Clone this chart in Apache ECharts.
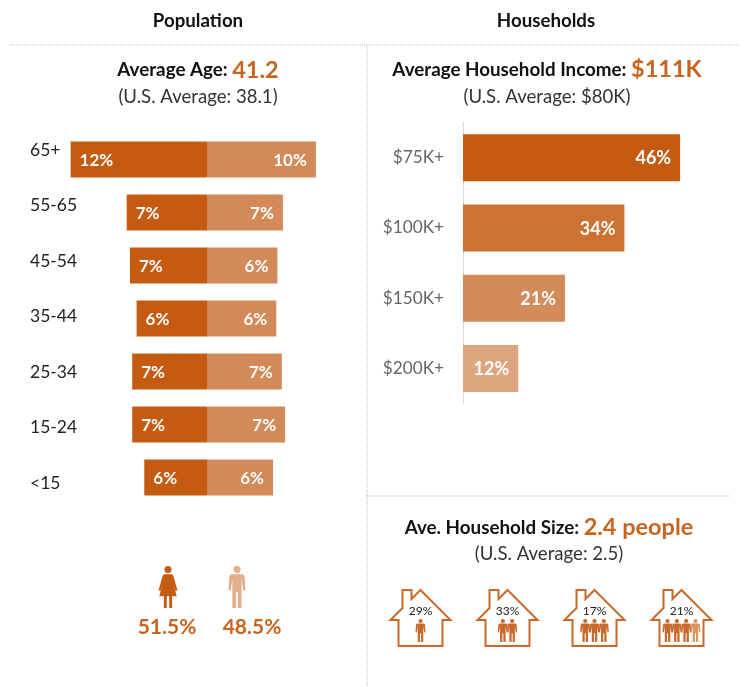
<!DOCTYPE html>
<html>
<head>
<meta charset="utf-8">
<title>Population and Households</title>
<style>
html, body { margin: 0; padding: 0; background: #fff; }
#chart { width: 749px; height: 687px; }
</style>
<script src="https://cdn.jsdelivr.net/npm/echarts@6/dist/echarts.min.js"></script>
</head>
<body>
<div id="chart"></div>
<script>
const ageGroups = ['65+', '55-65', '45-54', '35-44', '25-34', '15-24', '<15'];
const femaleShare = [12.4, 7.3, 7.0, 6.4, 6.8, 6.8, 5.7];
const maleShare = [9.9, 6.9, 6.4, 6.3, 6.8, 7.1, 6.0];

const incomeLevels = ['$75K+', '$100K+', '$150K+', '$200K+'];
const incomeShare = [46, 34.2, 21.6, 11.7];
const incomeLabels = ['46%', '34%', '21%', '12%'];
const incomeColors = ['#C55A11', '#CC7233', '#D48B5A', '#DDA67F'];

const householdShare = [29, 33, 17, 21];
const householdPeople = [1, 2, 3, 4];

const genderNames = ['Female', 'Male'];
const genderShare = [51.5, 48.5];

const DARK = '#C55A11';
const LIGHT = '#D48A58';
const ORANGE = '#C8641F';
const FONT = 'Lato';

const HOUSE = 'M0 -28L30 2H22V28H-22V2H-30L-18 -10V-28H-9V-19Z';
const MALE = 'M20 .5a8.5 8.5 0 1 1 0 17a8.5 8.5 0 1 1 0-17zM8 20H32Q37 20 38 25L40 58L35 59L31 32V100H22V62H18V100H9V32L5 59L0 58L2 25Q3 20 8 20z';
const FEMALE = 'M23 .5a8.5 8.5 0 1 1 0 17a8.5 8.5 0 1 1 0-17zM14 20H32Q35 20 36 24L46 58L41 60L34 36L44 72H33V100H26V72H20V100H13V72H2L12 36L5 60L0 58L10 24Q11 20 14 20z';

function heading(text, x, y, rich) {
    return {
        type: 'text', silent: true,
        style: {
            text: text, x: x, y: y, rich: rich,
            align: 'center', textAlign: 'center',
            verticalAlign: 'middle', textVerticalAlign: 'middle',
            fontFamily: FONT
        }
    };
}

function rule(x1, y1, x2, y2) {
    return {
        type: 'line', silent: true,
        shape: { x1: x1, y1: y1, x2: x2, y2: y2 },
        style: { stroke: '#B8B8B8', lineWidth: 1, lineDash: [1, 1] }
    };
}

const titleRich = {
    t: { fontFamily: FONT, fontSize: 18.7, fontWeight: 'bold', fill: '#111' },
    a: { fontFamily: FONT, fontSize: 18.8, fontWeight: 'bold', fill: '#111' },
    b: { fontFamily: FONT, fontSize: 23.5, fontWeight: 'bold', fill: ORANGE },
    s: { fontFamily: FONT, fontSize: 18.6, fill: '#333' }
};

function renderHouse(params, api) {
    const i = api.value(0);
    const c = api.coord([i, 0.5]);
    const n = api.value(2);
    const children = [{
        type: 'path',
        shape: { pathData: HOUSE, x: c[0] - 30, y: c[1] - 28, width: 60, height: 56, layout: 'cover' },
        style: { fill: 'none', stroke: '#C8682A', lineWidth: 2 }
    }, {
        type: 'text',
        style: {
            text: api.value(1) + '%', x: c[0], y: c[1] - 7,
            align: 'center', verticalAlign: 'middle', textAlign: 'center', textVerticalAlign: 'middle',
            fontFamily: FONT, fontSize: 12, fill: '#222'
        }
    }];
    for (let k = 0; k < n; k++) {
        const px = c[0] + (k - (n - 1) / 2) * 9.3;
        children.push({
            type: 'path',
            shape: { pathData: MALE, x: px - 5, y: c[1] + 1, width: 10, height: 23, layout: 'cover' },
            style: { fill: k === 3 ? '#D9975F' : '#C8682A' }
        });
    }
    return { type: 'group', children: children };
}

function renderGender(params, api) {
    const i = api.value(0);
    const c = api.coord([i, 0.5]);
    const w = i === 0 ? 19 : 17;
    return {
        type: 'group',
        children: [{
            type: 'path',
            shape: { pathData: i === 0 ? FEMALE : MALE, x: c[0] - w / 2, y: c[1] - 21, width: w, height: 42, layout: 'cover' },
            style: { fill: i === 0 ? DARK : '#E3B08F' }
        }, {
            type: 'text',
            style: {
                text: api.value(1) + '%', x: c[0] + (i === 0 ? -1 : 15), y: c[1] + 40,
                align: 'center', verticalAlign: 'middle', textAlign: 'center', textVerticalAlign: 'middle',
                fontFamily: FONT, fontSize: 21, fontWeight: 'bold', fill: ORANGE
            }
        }]
    };
}

const barLabel = {
    show: true, color: '#fff', fontFamily: FONT, fontSize: 17, fontWeight: 'bold', distance: 9, offset: [0, 1]
};

const chart = echarts.init(document.getElementById('chart'), null, { renderer: 'canvas' });
chart.setOption({
    animation: false,
    textStyle: { fontFamily: FONT },
    grid: [
        { left: 42, width: 330, top: 133, height: 371 },
        { left: 38, width: 20, top: 122.5, height: 388.5 },
        { left: 463, width: 236, top: 122.5, height: 281 },
        { left: 377, width: 348, top: 590, height: 56 },
        { left: 133.5, width: 138, top: 566, height: 42 }
    ],
    xAxis: [
        { gridIndex: 0, type: 'value', min: -15, max: 15, show: false },
        { gridIndex: 1, type: 'value', min: 0, max: 1, show: false },
        { gridIndex: 2, type: 'value', min: 0, max: 50, show: false },
        { gridIndex: 3, type: 'category', data: householdPeople, show: false },
        { gridIndex: 4, type: 'category', data: genderNames, show: false }
    ],
    yAxis: [
        { gridIndex: 0, type: 'category', data: ageGroups, inverse: true, show: false },
        {
            gridIndex: 1, type: 'category', data: ageGroups, inverse: true,
            axisLine: { show: false }, axisTick: { show: false },
            axisLabel: { align: 'left', margin: 8, fontFamily: FONT, fontSize: 17.5, color: '#222' }
        },
        {
            gridIndex: 2, type: 'category', data: incomeLevels, inverse: true,
            axisLine: { lineStyle: { color: '#D9D9D9', width: 1 } }, axisTick: { show: false },
            axisLabel: { margin: 19, padding: [2, 0, 0, 0], fontFamily: FONT, fontSize: 17.2, color: '#666' }
        },
        { gridIndex: 3, type: 'value', min: 0, max: 1, show: false },
        { gridIndex: 4, type: 'value', min: 0, max: 1, show: false }
    ],
    series: [
        {
            type: 'bar', name: 'Female', stack: 'age', xAxisIndex: 0, yAxisIndex: 0, barWidth: 36,
            data: femaleShare.map(v => -v),
            itemStyle: { color: DARK },
            label: Object.assign({}, barLabel, {
                position: 'insideLeft',
                formatter: p => Math.round(-p.value) + '%'
            })
        },
        {
            type: 'bar', name: 'Male', stack: 'age', xAxisIndex: 0, yAxisIndex: 0, barWidth: 36,
            data: maleShare,
            itemStyle: { color: LIGHT },
            label: Object.assign({}, barLabel, {
                position: 'insideRight',
                formatter: p => Math.round(p.value) + '%'
            })
        },
        {
            type: 'bar', name: 'Income', xAxisIndex: 2, yAxisIndex: 2, barWidth: 47,
            data: incomeShare.map((v, i) => ({ value: v, itemStyle: { color: incomeColors[i] } })),
            label: Object.assign({}, barLabel, {
                position: 'insideRight', fontSize: 18,
                formatter: p => incomeLabels[p.dataIndex]
            })
        },
        {
            type: 'custom', name: 'Household size', xAxisIndex: 3, yAxisIndex: 3,
            data: householdShare.map((v, i) => [i, v, householdPeople[i]]),
            renderItem: renderHouse, silent: true
        },
        {
            type: 'custom', name: 'Gender', xAxisIndex: 4, yAxisIndex: 4,
            data: genderShare.map((v, i) => [i, v]),
            renderItem: renderGender, silent: true
        }
    ],
    graphic: [
        rule(10, 45, 740, 45),
        rule(367, 45, 367, 687),
        rule(367, 496, 731, 496),
        heading('{t|Population}', 198, 21, titleRich),
        heading('{t|Households}', 546, 21, titleRich),
        heading('{a|Average Age: }{b|41.2}', 198, 70, titleRich),
        heading('{s|(U.S. Average: 38.1)}', 198, 97, titleRich),
        heading('{a|Average Household Income: }{b|$111K}', 547, 69.5, titleRich),
        heading('{s|(U.S. Average: $80K)}', 547, 96.5, titleRich),
        heading('{a|Ave. Household Size: }{b|2.4 people}', 549, 527.5, titleRich),
        heading('{s|(U.S. Average: 2.5)}', 549, 554, titleRich)
    ]
});
</script>
</body>
</html>
